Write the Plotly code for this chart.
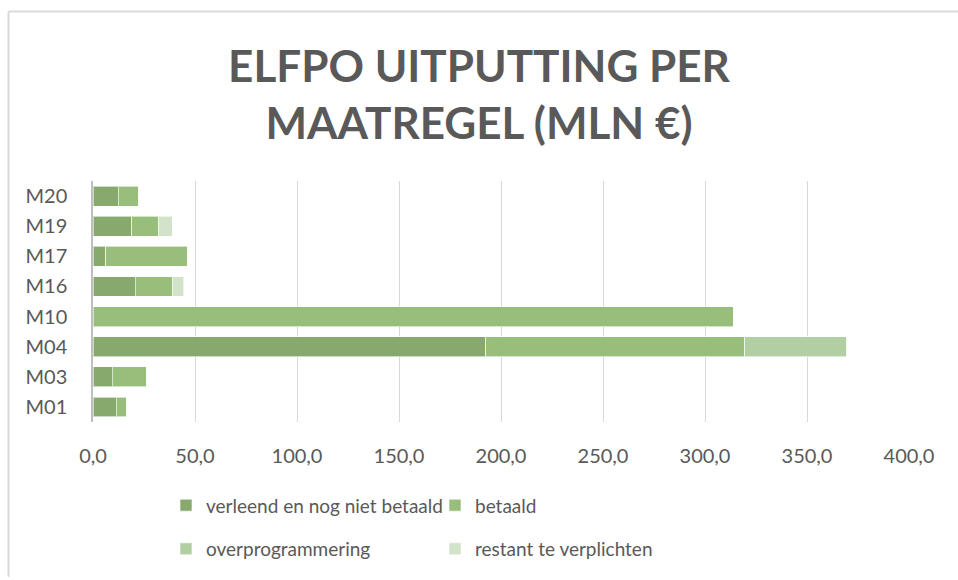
import plotly.graph_objects as go

categories = ["M01", "M03", "M04", "M10", "M16", "M17", "M19", "M20"]
verleend = [11.3, 9.5, 192.6, 0.0, 20.6, 6.2, 19.0, 12.4]
betaald = [5.2, 16.8, 127.0, 313.9, 18.3, 40.0, 13.0, 10.1]
overprogrammering = [0, 0, 49.8, 0, 0, 0, 0, 0]
restant = [0, 0, 0, 0, 5.5, 0, 6.9, 0]

series_names = ["verleend en nog niet betaald", "betaald", "overprogrammering", "restant te verplichten"]
colors = ["#88A96E", "#97BF7B", "#B2CFA3", "#D2E3CA"]
legend_ids = ["legend", "legend", "legend2", "legend2"]

W, H = 958, 580
L, R, T, B = 93, 49, 181, 156
pw, ph = W - L - R, H - T - B

def px_x(px):
    return (px - L) / pw

def px_y(py):
    return (H - B - py) / ph

fig = go.Figure()
for name, vals, col, lg in zip(series_names, [verleend, betaald, overprogrammering, restant], colors, legend_ids):
    fig.add_trace(go.Bar(
        y=categories, x=vals, name=name, orientation="h",
        marker=dict(color=col, line=dict(color="rgba(255,255,255,0.6)", width=1)),
        legend=lg,
    ))

FONT = "Lato, 'Open Sans', sans-serif"
legend_common = dict(
    orientation="h", xanchor="left", yanchor="middle",
    font=dict(family=FONT, size=19, color="#595959"),
    entrywidth=224, entrywidthmode="pixels",
    bgcolor="rgba(0,0,0,0)", traceorder="normal",
)

fig.update_layout(
    width=W, height=H,
    margin=dict(l=L, r=R, t=T, b=B, pad=0),
    paper_bgcolor="white", plot_bgcolor="white",
    barmode="stack", bargap=0.34,
    separators=",.",
    font=dict(family=FONT, size=20, color="#595959"),
    title=dict(
        text="<b>ELFPO UITPUTTING PER<br>MAATREGEL (MLN €)</b>",
        x=0.5, xref="container", xanchor="center",
        y=1 - 82 / H, yref="container", yanchor="middle",
        font=dict(family=FONT, size=44, color="#595959"),
    ),
    xaxis=dict(
        range=[0, 400], dtick=50, tickformat=".1f",
        showgrid=True, gridcolor="#D9D9D9", gridwidth=1,
        zeroline=False, showline=False, ticks="",
        ticklabelstandoff=20,
        tickfont=dict(family=FONT, size=20, color="#595959"),
        fixedrange=True,
    ),
    yaxis=dict(
        showgrid=False, zeroline=False, showline=True,
        linecolor="#BFBFBF", linewidth=1.5, ticks="",
        ticklabelstandoff=20,
        tickfont=dict(family=FONT, size=20, color="#595959"),
        fixedrange=True,
    ),
    legend=dict(x=px_x(166), y=px_y(508), **legend_common),
    legend2=dict(x=px_x(166), y=px_y(552), **legend_common),
    shapes=[
        dict(type="line", xref="paper", yref="paper",
             x0=px_x(8.5), x1=px_x(958), y0=px_y(10), y1=px_y(10),
             line=dict(color="#D9D9D9", width=2), layer="below"),
        dict(type="line", xref="paper", yref="paper",
             x0=px_x(8.5), x1=px_x(8.5), y0=px_y(10), y1=px_y(580),
             line=dict(color="#D9D9D9", width=2), layer="below"),
    ],
)

fig.write_html("out.html", config={"displayModeBar": False},
               post_script="document.body.style.margin='0';")
